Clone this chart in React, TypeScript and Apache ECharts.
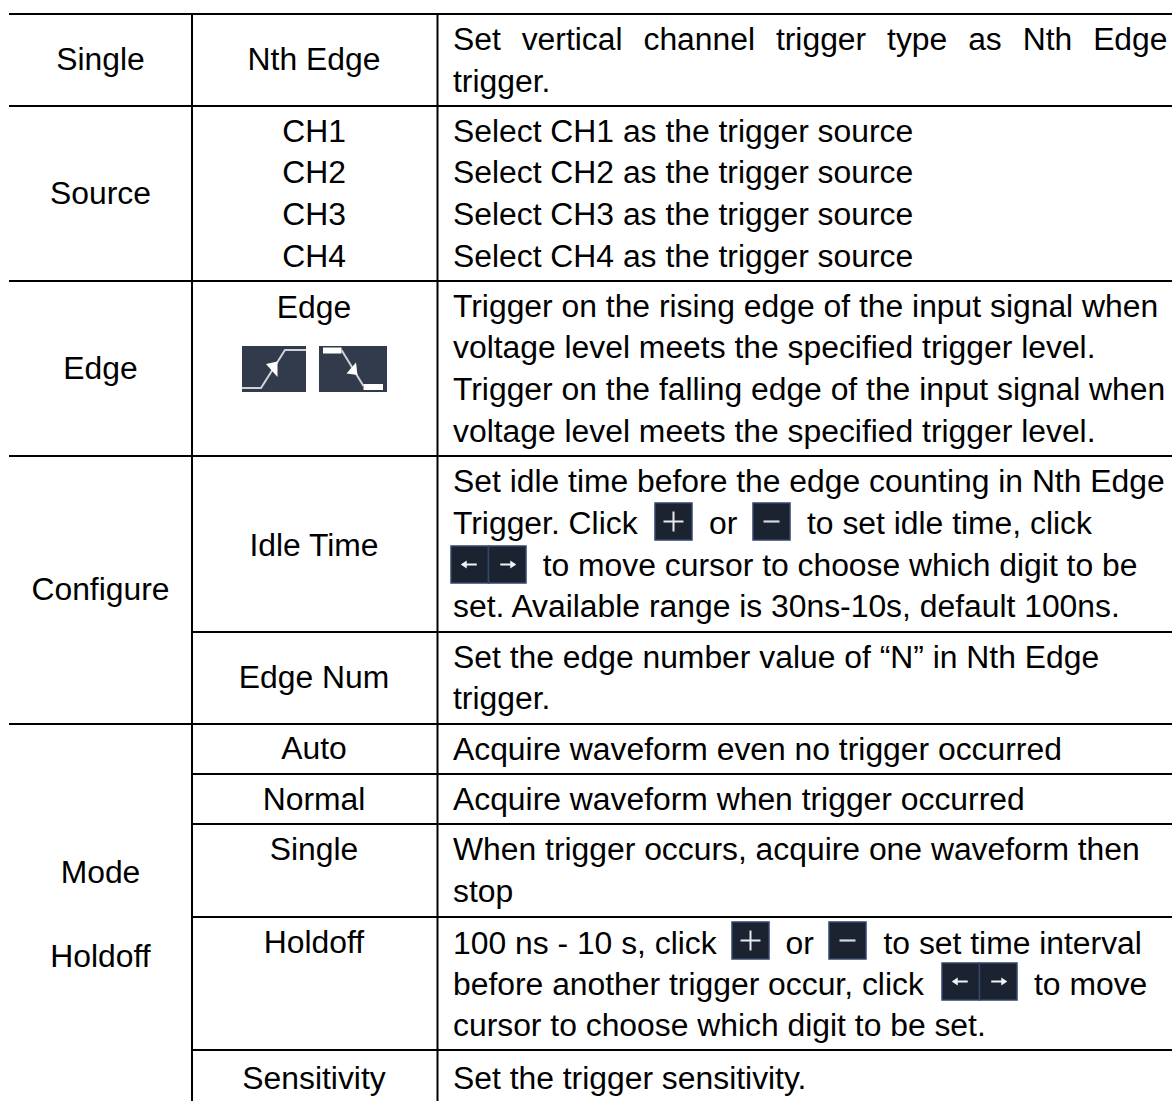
import React, { useEffect, useRef } from "react";
import * as echarts from "echarts";

const W = 1172;
const H = 1101;

// ---- table contents ----
const groupLabels = ["Single", "Source", "Edge", "Configure", "Mode", "Holdoff"];
const optionLabels = ["Nth Edge", "CH1", "CH2", "CH3", "CH4", "Edge", "Idle Time", "Edge Num", "Auto", "Normal", "Single", "Holdoff", "Sensitivity"];
const justifiedLine = "Set vertical channel trigger type as Nth Edge";
const descriptionLines = [
  "trigger.",
  "Select CH1 as the trigger source",
  "Select CH2 as the trigger source",
  "Select CH3 as the trigger source",
  "Select CH4 as the trigger source",
  "Trigger on the rising edge of the input signal when",
  "voltage level meets the specified trigger level.",
  "Trigger on the falling edge of the input signal when",
  "voltage level meets the specified trigger level.",
  "Set idle time before the edge counting in Nth Edge",
  "Trigger. Click",
  "set. Available range is 30ns-10s, default 100ns.",
  "Set the edge number value of \u201cN\u201d in Nth Edge",
  "trigger.",
  "Acquire waveform even no trigger occurred",
  "Acquire waveform when trigger occurred",
  "When trigger occurs, acquire one waveform then",
  "stop",
  "100 ns - 10 s, click",
  "before another trigger occur, click",
  "cursor to choose which digit to be set.",
  "Set the trigger sensitivity.",
];
const inlineFragments = ["or", "to set idle time, click", "to move cursor to choose which digit to be", "or", "to set time interval", "to move"];

// ---- layout ----
const FONT_SIZE = 31.85;
const FONT = "'Liberation Sans', Arial, sans-serif";
const INK = "#000000";
const CENTRAL = 11.05;
const X_G = 100.5;
const X_O = 314;
const X_D = 453;
const X_END = 1167.5;
const groupBaselines = [70, 204, 379, 600, 883, 967];
const optionBaselines = [70, 142, 183.5, 225, 266.6, 318, 556, 688, 759, 810, 860, 953, 1089];
const descBaselines = [91.6, 142, 183.5, 225, 266.6, 316.7, 358.3, 400, 441.7, 491.7, 534, 617, 667.7, 709, 760, 810, 860, 901.6, 954, 995, 1036, 1089];
const fragmentPos: [number, number][] = [[709, 534], [807, 534], [542.7, 576], [785.5, 954], [883.5, 954], [1034, 995]];
const fullRules = [14, 106, 281, 456, 724];
const partRules = [632, 774, 824, 917, 1050];
const verticals = [192, 437.5];
const plusIcons: [number, number][] = [[655, 503], [732, 922]];
const minusIcons: [number, number][] = [[753, 503], [829, 922]];
const arrowIcons: [number, number][] = [[451, 546], [942, 963]];

function txt(text: string, x: number, baseline: number, align: string = "left") {
  return {
    type: "text",
    silent: true,
    style: { text, x, y: baseline - CENTRAL, align, verticalAlign: "middle", fontSize: FONT_SIZE, fontFamily: FONT, fill: INK },
  };
}
function seg(x1: number, y1: number, x2: number, y2: number, stroke: string, lineWidth: number) {
  return { type: "line", silent: true, shape: { x1, y1, x2, y2 }, style: { stroke, lineWidth, lineCap: "butt" } };
}
function box(x: number, y: number, width: number, height: number) {
  return { type: "rect", silent: true, shape: { x, y, width, height }, style: { fill: "#1b2331", stroke: "#34466b", lineWidth: 1.5 } };
}
function justify(line: string, x0: number, x1: number, baseline: number) {
  const ctx = document.createElement("canvas").getContext("2d") as CanvasRenderingContext2D;
  ctx.font = `${FONT_SIZE}px ${FONT}`;
  const words = line.split(" ");
  const widths = words.map((w) => ctx.measureText(w).width);
  const gap = (x1 - x0 - widths.reduce((a, b) => a + b, 0)) / (words.length - 1);
  let x = x0;
  return words.map((w, i) => {
    const el = txt(w, x, baseline);
    x += widths[i] + gap;
    return el;
  });
}
function plus(x: number, y: number) {
  const s = 37;
  const cx = x + s / 2;
  const cy = y + s / 2;
  return [box(x, y, s, s), seg(cx - 10, cy, cx + 10, cy, "#e8eaee", 2), seg(cx, cy - 10, cx, cy + 10, "#e8eaee", 2)];
}
function minus(x: number, y: number) {
  const s = 37;
  const cy = y + s / 2;
  return [box(x, y, s, s), seg(x + 10.5, cy, x + s - 10.5, cy, "#d5d9e0", 2.2)];
}
function arrows(x: number, y: number) {
  const w = 37.5;
  const h = 37;
  const cy = y + h / 2;
  const arrow = (cx: number, dir: number) => [
    seg(cx - 7, cy, cx + 7, cy, "#f2f3f5", 2),
    { type: "polygon", silent: true, shape: { points: [[cx + dir * 9, cy], [cx + dir * 3, cy - 4], [cx + dir * 3, cy + 4]] }, style: { fill: "#f2f3f5" } },
  ];
  return [box(x, y, w, h), box(x + w, y, w, h), ...arrow(x + w / 2, -1), ...arrow(x + w * 1.5, 1)];
}
function edgeIcons() {
  const bg = "#323b4c";
  const wave = "#cfd3da";
  const white = "#ffffff";
  return [
    { type: "rect", silent: true, shape: { x: 242, y: 346, width: 64, height: 46 }, style: { fill: bg } },
    { type: "polyline", silent: true, shape: { points: [[242, 388], [261, 388], [285, 350], [306, 350]] }, style: { stroke: wave, lineWidth: 2, fill: "none" } },
    { type: "polygon", silent: true, shape: { points: [[266, 364], [277.5, 361.5], [277.5, 377]] }, style: { fill: white } },
    { type: "rect", silent: true, shape: { x: 319, y: 346, width: 68, height: 46 }, style: { fill: bg } },
    { type: "rect", silent: true, shape: { x: 323, y: 347.5, width: 18.5, height: 6 }, style: { fill: white } },
    { type: "polyline", silent: true, shape: { points: [[341.5, 350], [363.5, 386]] }, style: { stroke: wave, lineWidth: 2, fill: "none" } },
    { type: "polygon", silent: true, shape: { points: [[356, 362.5], [346.5, 373.5], [357.5, 375]] }, style: { fill: white } },
    { type: "rect", silent: true, shape: { x: 363.5, y: 384, width: 19.5, height: 6 }, style: { fill: white } },
  ];
}

function buildGraphic() {
  const els: any[] = [];
  els.push({ type: "rect", silent: true, shape: { x: 0, y: 0, width: W, height: H }, style: { fill: "#ffffff" } });
  fullRules.forEach((y) => els.push(seg(9, y, W, y, INK, 2)));
  partRules.forEach((y) => els.push(seg(verticals[0], y, W, y, INK, 2)));
  verticals.forEach((x) => els.push(seg(x, 13, x, H, INK, 2)));
  groupLabels.forEach((t, i) => els.push(txt(t, X_G, groupBaselines[i], "center")));
  optionLabels.forEach((t, i) => els.push(txt(t, X_O, optionBaselines[i], "center")));
  els.push(...justify(justifiedLine, X_D, X_END, 50));
  descriptionLines.forEach((t, i) => els.push(txt(t, X_D, descBaselines[i])));
  inlineFragments.forEach((t, i) => els.push(txt(t, fragmentPos[i][0], fragmentPos[i][1])));
  plusIcons.forEach(([x, y]) => els.push(...plus(x, y)));
  minusIcons.forEach(([x, y]) => els.push(...minus(x, y)));
  arrowIcons.forEach(([x, y]) => els.push(...arrows(x, y)));
  els.push(...edgeIcons());
  return els;
}

export default function App() {
  const ref = useRef<HTMLDivElement>(null);
  useEffect(() => {
    document.body.style.margin = "0";
    const chart = echarts.init(ref.current as HTMLDivElement, undefined, { renderer: "svg" });
    chart.setOption({ animation: false, backgroundColor: "#ffffff", graphic: { elements: buildGraphic() } });
    return () => chart.dispose();
  }, []);
  return <div ref={ref} style={{ width: W, height: H }} />;
}
